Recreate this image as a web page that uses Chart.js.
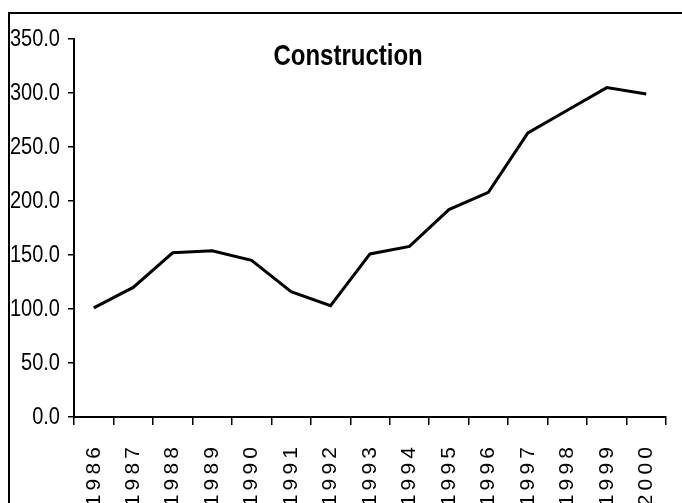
<!DOCTYPE html>
<html>
<head>
<meta charset="utf-8">
<script src="https://cdn.jsdelivr.net/npm/chart.js@4"></script>
<style>
    html, body { margin: 0; padding: 0; background: #fff; overflow: hidden; }
    #wrap { position: relative; width: 682px; height: 503px; overflow: hidden; }
    #frame {
        position: absolute; left: 8px; top: 12px; width: 720px; height: 540px;
        border-left: 2px solid #000; border-top: 2px solid #000; pointer-events: none;
    }
    #chart { position: absolute; left: 0; top: 0; }
</style>
</head>
<body>
<div id="wrap">
    <div id="frame"></div>
    <canvas id="chart" width="682" height="503"></canvas>
</div>
<script>
// Data
const years = ['1986', '1987', '1988', '1989', '1990', '1991', '1992', '1993',
               '1994', '1995', '1996', '1997', '1998', '1999', '2000'];
const construction = [101, 120, 152, 154, 145, 116, 103, 151, 158, 192, 208, 263, 284, 305, 299];
const yTicks = [0, 50, 100, 150, 200, 250, 300, 350];
const chartTitle = 'Construction';

const sans = "'Liberation Sans', Arial, sans-serif";

// No narrow face installed, so squeeze text horizontally by hand
const drawNarrow = (ctx, text, x, y, squeeze, align) => {
    ctx.save();
    ctx.translate(x, y);
    ctx.scale(squeeze, 1);
    ctx.textAlign = align;
    ctx.fillText(text, 0, 0);
    ctx.restore();
};

// Title inside the plot area + condensed y tick labels
const narrowTextPlugin = {
    id: 'narrowText',
    afterDraw(chart) {
        const { ctx, chartArea } = chart;
        const yScale = chart.scales.y;
        ctx.save();
        ctx.fillStyle = '#000';

        ctx.font = `bold 30px ${sans}`;
        ctx.textBaseline = 'alphabetic';
        drawNarrow(ctx, chartTitle, chartArea.left + (chartArea.right - chartArea.left) * 0.463, chartArea.top + 26, 0.8, 'center');

        ctx.font = `23px ${sans}`;
        ctx.textBaseline = 'middle';
        yScale.ticks.forEach(t => {
            drawNarrow(ctx, t.value.toFixed(1), yScale.right - 14, yScale.getPixelForValue(t.value) + 1, 0.87, 'right');
        });
        ctx.restore();
    }
};

const ctx = document.getElementById('chart').getContext('2d');
new Chart(ctx, {
    type: 'line',
    data: {
        labels: years,
        datasets: [{
            data: construction,
            borderColor: '#000',
            borderWidth: 3,
            pointRadius: 0,
            fill: false,
            tension: 0
        }]
    },
    options: {
        responsive: false,
        animation: false,
        layout: { padding: { top: 39, right: 16, left: 0, bottom: 0 } },
        plugins: { legend: { display: false }, tooltip: { enabled: false } },
        scales: {
            x: {
                offset: true,
                grid: { offset: true, drawOnChartArea: false, drawTicks: true, tickLength: 8, color: '#000', lineWidth: 1.5 },
                border: { color: '#000', width: 2 },
                ticks: {
                    autoSkip: false,
                    minRotation: 90,
                    maxRotation: 90,
                    padding: 22,
                    color: '#000',
                    font: { family: sans, size: 21 },
                    // spaced-out digits like the original
                    callback: function (value, index) {
                        return years[index].split('').join('\u2009');
                    }
                },
                afterFit: (scale) => {
                    scale.height = 86;
                    scale.paddingLeft = 0;
                    scale.paddingRight = 0;
                }
            },
            y: {
                min: 0,
                max: 350,
                afterBuildTicks: (scale) => { scale.ticks = yTicks.map(v => ({ value: v })); },
                grid: { drawOnChartArea: false, drawTicks: true, tickLength: 6, color: '#000', lineWidth: 1.5 },
                border: { color: '#000', width: 2 },
                ticks: { display: false },
                afterFit: (scale) => { scale.width = 74; }
            }
        }
    },
    plugins: [narrowTextPlugin]
});
</script>
</body>
</html>
